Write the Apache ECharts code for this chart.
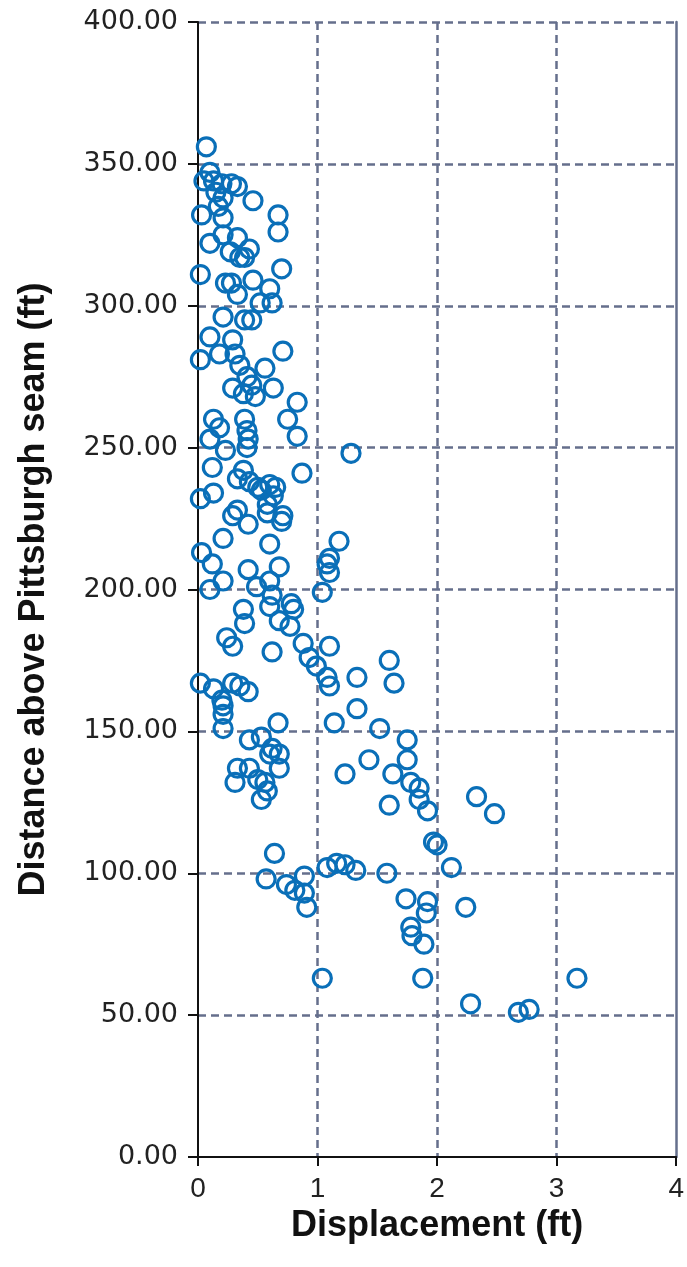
<!DOCTYPE html>
<html>
<head>
<meta charset="utf-8">
<script src="https://cdn.jsdelivr.net/npm/echarts@6/dist/echarts.min.js"></script>
<style>
html,body{margin:0;padding:0;background:#fff;}
#chart{width:687px;height:1267px;}
</style>
</head>
<body>
<div id="chart"></div>
<script>
// Displacement (ft) values
const displacement = [
  0.07,0.10,0.13,0.20,0.28,0.33,0.21,0.46,0.03,0.21,0.67,0.67,0.10,0.21,0.33,0.27,0.35,0.43,0.39,0.02,
  0.70,0.23,0.28,0.46,0.33,0.60,0.52,0.62,0.21,0.39,0.10,0.15,0.05,0.17,0.45,
  0.02,0.29,0.18,0.31,0.71,0.35,0.56,0.41,0.29,0.45,0.63,0.48,0.38,0.83,0.75,0.83,0.13,0.18,0.10,0.39,
  0.41,0.42,0.41,0.23,0.12,0.02,0.13,0.38,0.33,0.43,0.60,0.53,0.63,0.58,0.33,0.71,1.28,0.87,0.50,0.65,
  0.29,0.42,0.58,0.70,0.21,0.03,0.12,0.21,0.10,0.60,0.42,0.68,0.60,0.49,0.62,0.78,0.80,0.60,0.38,0.39,
  0.68,0.77,0.88,0.24,0.29,0.62,0.93,0.99,1.18,1.10,1.08,1.10,1.04,1.10,1.08,1.10,1.60,1.64,1.33,0.02,
  0.13,0.29,0.35,0.42,0.20,1.33,
  0.21,0.21,0.21,0.67,0.43,0.53,0.62,0.68,0.33,0.43,0.68,0.31,0.56,0.58,0.53,0.64,1.14,1.52,1.43,1.23,
  1.75,1.75,1.63,1.78,1.85,1.85,1.92,1.60,1.97,2.00,2.33,2.48,0.60,0.50,
  1.08,1.16,1.23,1.32,1.58,2.12,0.57,0.74,0.81,0.89,0.89,0.91,1.74,1.92,1.91,1.78,1.79,1.89,2.24,1.04,
  1.88,3.17,2.28,2.68,2.77
];
// Distance above Pittsburgh seam (ft) values
const distance = [
  356,347,344,343,343,342,338,337,332,331,332,326,322,325,324,319,317,320,317,311,
  313,308,308,309,304,306,301,301,296,295,289,340,344,335,295,
  281,288,283,283,284,279,278,275,271,272,271,268,269,266,260,254,260,257,253,260,
  256,253,250,249,243,232,234,242,239,238,237,235,233,230,228,226,248,241,236,236,
  226,223,227,224,218,213,209,203,200,216,207,208,203,201,198,195,193,194,193,188,
  189,187,181,183,180,178,176,173,217,211,209,206,199,180,169,166,175,167,169,167,
  165,167,166,164,161,158,
  159,156,151,153,147,148,144,142,137,137,137,132,132,129,126,107,153,151,140,135,
  147,140,135,132,130,126,122,124,111,110,127,121,142,133,
  102,103.5,103,101,100,102,98,96,94,99,93,88,91,90,86,81,78,75,88,63,
  63,63,54,51,52
];
const xTicks = [0, 1, 2, 3, 4];
const yTickLabels = ['0.00','50.00','100.00','150.00','200.00','250.00','300.00','350.00','400.00'];

const points = displacement.map((d, i) => [d, distance[i]]);
const gridColor = '#656f8c';

const chart = echarts.init(document.getElementById('chart'), null, {renderer: 'canvas'});
chart.setOption({
  animation: false,
  backgroundColor: '#ffffff',
  grid: {left: 198, right: 9, top: 22, bottom: 110, containLabel: false},
  xAxis: {
    type: 'value', min: xTicks[0], max: xTicks[xTicks.length - 1], interval: 1,
    name: 'Displacement (ft)', nameLocation: 'middle', nameGap: 42,
    nameTextStyle: {fontFamily: 'Liberation Sans', fontWeight: 'bold', fontSize: 36, color: '#111'},
    axisLine: {show: true, onZero: false, lineStyle: {color: '#111', width: 2}},
    axisTick: {show: true, inside: false, length: 9, lineStyle: {color: '#111', width: 2}},
    axisLabel: {margin: 18, fontFamily: 'Liberation Sans', fontSize: 28, color: '#222'},
    splitLine: {show: true, showMinLine: false, showMaxLine: false,
      lineStyle: {color: gridColor, width: 2.5, type: [8, 5]}}
  },
  yAxis: [{
    type: 'value', min: 0, max: 400, interval: 50, position: 'left',
    name: 'Distance above Pittsburgh seam (ft)', nameLocation: 'middle', nameGap: 146,
    nameTextStyle: {fontFamily: 'Liberation Sans', fontWeight: 'bold', fontSize: 36, color: '#111'},
    axisLine: {show: true, onZero: false, lineStyle: {color: '#111', width: 2}},
    axisTick: {show: true, inside: false, length: 10, lineStyle: {color: '#111', width: 2}},
    axisLabel: {margin: 20, fontFamily: 'DejaVu Sans', fontSize: 27, color: '#222',
      formatter: (v) => yTickLabels[Math.round(v / 50)]},
    splitLine: {show: true, showMinLine: false,
      lineStyle: {color: gridColor, width: 2.5, type: [8, 5]}}
  }, {
    type: 'value', min: 0, max: 400, position: 'right',
    axisLine: {show: true, onZero: false, lineStyle: {color: gridColor, width: 2.5}},
    axisTick: {show: false}, axisLabel: {show: false}, splitLine: {show: false}
  }],
  series: [{
    type: 'scatter',
    data: points,
    symbol: 'circle',
    symbolSize: 18,
    itemStyle: {color: 'rgba(0,0,0,0)', borderColor: '#0a6fb8', borderWidth: 3.2, opacity: 1}
  }]
});
</script>
</body>
</html>
